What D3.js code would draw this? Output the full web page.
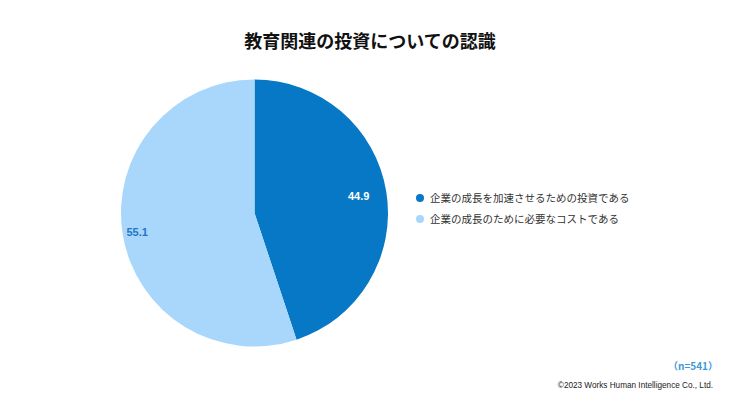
<!DOCTYPE html>
<html><head><meta charset="utf-8">
<script src="https://cdn.jsdelivr.net/npm/d3@7"></script>
<style>body{margin:0;background:#fff;}svg{display:block;}</style>
</head><body>
<svg id="c" width="740" height="416"></svg>
<script>
const categories = ["企業の成長を加速させるための投資である", "企業の成長のために必要なコストである"];
const values = [44.9, 55.1];
const colors = ["#0778c6", "#a8d7fb"];
const labelColors = ["#ffffff", "#1f78c1"];
const title = "教育関連の投資についての認識";
const note = "（n=541）";
const credit = "©2023 Works Human Intelligence Co., Ltd.";

const svg = d3.select("#c");
const font = "'Noto Sans CJK JP', 'Noto Sans', sans-serif";
svg.append("rect").attr("width",740).attr("height",416).attr("fill","#fff");

svg.append("text").attr("x",370).attr("y",48).attr("text-anchor","middle")
  .attr("font-family",font).attr("font-weight","bold").attr("font-size",18).attr("fill","#111").text(title);

const cx = 254.5, cy = 213, r = 133.5;
const pie = d3.pie().sort(null).value(d=>d)(values);
const arc = d3.arc().innerRadius(0).outerRadius(r);
const g = svg.append("g").attr("transform",`translate(${cx},${cy})`);
g.selectAll("path").data(pie).enter().append("path").attr("d",arc).attr("fill",(d,i)=>colors[i]);

const labelRatio = [0.79, 0.89];
g.selectAll("text").data(pie).enter().append("text")
  .attr("transform",(d,i)=>{const lr=r*labelRatio[i];const c=d3.arc().innerRadius(lr).outerRadius(lr).centroid(d);return `translate(${c[0]},${c[1]})`;})
  .attr("text-anchor","middle").attr("dy","0.35em")
  .attr("font-family","'Liberation Sans', Arial, sans-serif").attr("font-weight","bold").attr("font-size",11)
  .attr("fill",(d,i)=>labelColors[i]).text(d=>d.data.toFixed(1));

const lg = svg.append("g");
categories.forEach((c,i)=>{
  const y = 198 + i*21;
  lg.append("circle").attr("cx",420).attr("cy",y).attr("r",4).attr("fill",colors[i]);
  lg.append("text").attr("x",430).attr("y",y).attr("dy","0.35em").attr("font-family",font)
    .attr("font-size",10.5).attr("fill","#333").text(c);
});

svg.append("text").attr("x",718).attr("y",370).attr("text-anchor","end").attr("font-family",font)
  .attr("font-weight","bold").attr("font-size",10).attr("fill","#3f9ad6").text(note);
svg.append("text").attr("x",713).attr("y",388).attr("text-anchor","end").attr("font-family","'Liberation Sans', Arial, sans-serif")
  .attr("font-size",8.2).attr("fill","#222").text(credit);
</script>
</body></html>
